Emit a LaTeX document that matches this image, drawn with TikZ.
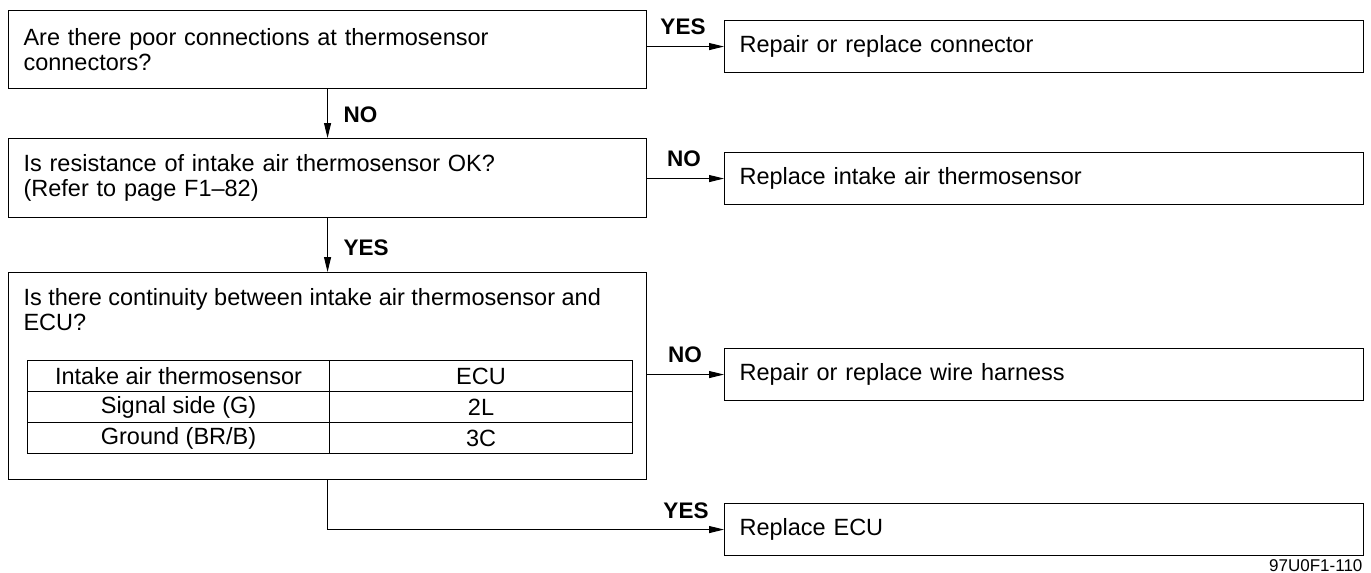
\documentclass[tikz,border=0pt]{standalone}
\usepackage{fontspec}
\setmainfont{Liberation Sans}
\usetikzlibrary{arrows.meta}
\begin{document}
\begin{tikzpicture}[x=1pt,y=-1pt,line width=1.1pt,
  txt/.style={font=\fontsize{23.5}{25}\selectfont},
  lbl/.style={font=\fontsize{22.5}{24}\selectfont\bfseries, inner sep=0pt},
  qbox/.style={txt, draw, rectangle, anchor=north west, inner xsep=15pt, inner ysep=0pt,
    text width=608pt, minimum height=#1, align=left},
  rbox/.style={txt, draw, rectangle, anchor=north west, inner xsep=15pt, inner ysep=0pt,
    text width=609pt, minimum height=52pt, align=left},
  cell/.style={txt, draw, rectangle, anchor=north west, inner sep=0pt,
    minimum width=#1, minimum height=31pt, align=center},
  arr/.style={-{Triangle[length=15pt,width=7pt]}}]
\useasboundingbox (0,0) rectangle (1371,573);

% question boxes
\node[qbox=78pt] (b1) at (8,10) {Are there poor connections at thermosensor\\connectors?};
\node[qbox=79pt] (b2) at (8,138) {Is resistance of intake air thermosensor OK?\\(Refer to page F1--82)};
\node[qbox=207pt] (b3) at (8,272) {};
\node[txt, anchor=north west, inner sep=0pt, align=left] (t3) at (23,288)
  {Is there continuity between intake air thermosensor and\\ECU?};

% table
\node[cell=302pt] (c11) at (27,360) {Intake air thermosensor};
\node[cell=303pt] (c12) at (329,360) {ECU};
\node[cell=302pt] (c21) at (27,391) {Signal side (G)};
\node[cell=303pt] (c22) at (329,391) {2L};
\node[cell=302pt] (c31) at (27,422) {Ground (BR/B)};
\node[cell=303pt] (c32) at (329,422) {3C};

% result boxes
\node[rbox] (r1) at (724,20) {Repair or replace connector};
\node[rbox] (r2) at (724,152) {Replace intake air thermosensor};
\node[rbox] (r3) at (724,348) {Repair or replace wire harness};
\node[rbox] (r4) at (724,503) {Replace ECU};

% connectors
\draw[arr] (b1.south) -- (b2.north);
\draw[arr] (b2.south) -- (b3.north);
\draw[arr] (b1.east |- r1.west) -- (r1.west);
\draw[arr] (b2.east |- r2.west) -- (r2.west);
\draw[arr] (b3.east |- r3.west) -- (r3.west);
\draw[arr] (b3.south) |- (r4.west);

% labels
\node[lbl, anchor=center] (l1) at (683,27) {YES};
\node[lbl, anchor=west] (l2) at (343,115) {NO};
\node[lbl, anchor=center] (l3) at (684,159) {NO};
\node[lbl, anchor=west] (l4) at (343,248) {YES};
\node[lbl, anchor=center] (l5) at (685,355) {NO};
\node[lbl, anchor=center] (l6) at (686,511) {YES};

\node[font=\fontsize{17}{19}\selectfont, anchor=base east, inner sep=0pt] (fig) at (1363,571) {97U0F1-110};
\end{tikzpicture}
\end{document}
